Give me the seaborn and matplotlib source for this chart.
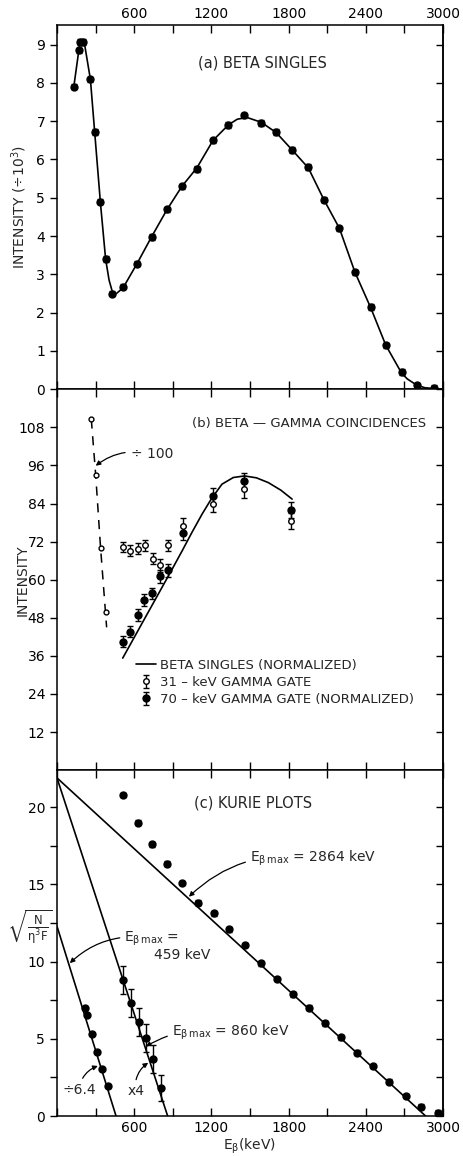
import matplotlib
matplotlib.use("Agg")
import matplotlib.pyplot as plt
import numpy as np
import pandas as pd
import seaborn as sns
from matplotlib.lines import Line2D
from matplotlib.ticker import MultipleLocator

# ---- (a) beta singles (intensity / 1000) ----
singles_e = [131, 170, 177, 203, 260, 293, 337, 378, 427, 514, 622, 735, 853, 971, 1087,
             1213, 1331, 1457, 1588, 1704, 1827, 1953, 2074, 2195, 2316, 2439, 2555, 2678, 2799, 2927]
singles_i = [7.9, 8.85, 9.07, 9.07, 8.09, 6.72, 4.9, 3.4, 2.5, 2.68, 3.28, 3.98, 4.7, 5.3, 5.75,
             6.5, 6.9, 7.15, 6.95, 6.72, 6.25, 5.8, 4.95, 4.2, 3.05, 2.15, 1.15, 0.45, 0.1, 0.03]
singles_fit_e = [131, 170, 182, 200, 215, 260, 293, 337, 378, 405, 430, 455, 514, 622, 735, 853,
                 971, 1087, 1213, 1331, 1400, 1474, 1588, 1704, 1827, 1953, 2074, 2195, 2316,
                 2439, 2555, 2678, 2722, 2799, 2860, 2927]
singles_fit_i = [7.9, 8.85, 9.1, 9.1, 9.0, 8.09, 6.72, 4.9, 3.4, 2.85, 2.55, 2.48, 2.65, 3.28, 3.98,
                 4.68, 5.3, 5.78, 6.5, 6.9, 7.05, 7.1, 6.97, 6.7, 6.25, 5.78, 4.95, 4.2, 3.05,
                 2.12, 1.15, 0.42, 0.27, 0.1, 0.04, 0.02]

# ---- (b) beta-gamma coincidences ----
gate31_e = [511, 571, 627, 684, 743, 800, 859, 976, 1213, 1457, 1822]
gate31_i = [70.3, 69.2, 69.8, 70.8, 66.6, 64.5, 70.8, 77.0, 84.0, 88.6, 78.6]
gate31_err = [1.7, 1.7, 1.7, 1.7, 1.8, 2.0, 1.8, 2.3, 2.8, 2.8, 2.5]
gate70_e = [511, 568, 627, 679, 737, 800, 859, 979, 1213, 1457, 1822]
gate70_i = [40.5, 43.6, 48.9, 53.6, 55.7, 61.1, 63.0, 74.7, 86.5, 91.2, 81.9]
gate70_err = [1.8, 1.8, 1.8, 1.8, 1.8, 2.0, 2.0, 2.3, 2.5, 2.5, 2.5]
low31_e = [267, 301, 339, 383]          # divided by 100
low31_i = [110.5, 93.0, 70.0, 49.7]
low31_line_e = [267, 301, 339, 386]
low31_line_i = [110.5, 93.0, 70.0, 45.0]
norm_fit_e = [511, 600, 700, 800, 900, 974, 1050, 1128, 1200, 1282, 1370, 1457, 1550, 1642, 1740, 1827]
norm_fit_i = [35.3, 41.8, 49.1, 56.4, 63.7, 69.2, 75.0, 80.7, 85.5, 90.1, 92.2, 92.7, 92.1, 90.6, 88.2, 85.4]

# ---- (c) Kurie plots ----
kurie_hi_e = [517, 632, 740, 858, 974, 1095, 1218, 1339, 1462, 1588, 1709, 1832, 1958, 2084,
              2203, 2331, 2454, 2583, 2709, 2832, 2961]
kurie_hi_v = [20.78, 19.0, 17.59, 16.35, 15.1, 13.81, 13.12, 12.08, 11.07, 9.88, 8.87, 7.88, 7.01,
              6.0, 5.09, 4.10, 3.24, 2.22, 1.29, 0.60, 0.21]
kurie_mid_e = [517, 576, 635, 691, 748, 810]
kurie_mid_v = [8.80, 7.33, 6.1, 5.07, 3.69, 1.83]
kurie_mid_err = [0.9, 0.9, 0.9, 0.9, 0.9, 0.85]
kurie_lo_e = [221, 236, 275, 314, 349, 396]
kurie_lo_v = [7.01, 6.54, 5.31, 4.16, 3.02, 1.94]
fit_2864_e, fit_2864_v = [0, 2864], [21.9, 0]
fit_860_e, fit_860_v = [0, 860], [21.9, 0]
fit_459_e, fit_459_v = [0, 459], [12.3, 0]

x_ticks = [600, 1200, 1800, 2400, 3000]

sns.set_theme(style="ticks")
plt.rcParams["font.family"] = ["DejaVu Sans"]
plt.rcParams["mathtext.default"] = "regular"
plt.rcParams["axes.edgecolor"] = "black"
plt.rcParams["axes.linewidth"] = 1.1
FS = 10

fig = plt.figure(figsize=(4.63, 11.56), dpi=100)
gs = fig.add_gridspec(3, 1, height_ratios=[364, 381, 346], hspace=0,
                      left=0.123, right=0.957, top=0.978, bottom=0.0346)
ax_a = fig.add_subplot(gs[0])
ax_b = fig.add_subplot(gs[1], sharex=ax_a)
ax_c = fig.add_subplot(gs[2], sharex=ax_a)


def style_axes(ax, major, minor=None):
    ax.set_xlim(0, 3000)
    ax.xaxis.set_major_locator(MultipleLocator(600))
    ax.xaxis.set_minor_locator(MultipleLocator(300))
    ax.yaxis.set_major_locator(MultipleLocator(major))
    if minor:
        ax.yaxis.set_minor_locator(MultipleLocator(minor))
    ax.tick_params(axis="y", which="both", left=True, right=False, direction="out",
                   labelsize=FS, colors="black", length=5, width=1)
    ax.tick_params(axis="x", which="both", top=True, bottom=True, direction="in",
                   labelsize=FS, colors="black", length=6, width=1)
    for s in ax.spines.values():
        s.set_color("black")
    # right-hand ticks point inward
    sec = ax.secondary_yaxis("right")
    sec.yaxis.set_major_locator(MultipleLocator(major))
    if minor:
        sec.yaxis.set_minor_locator(MultipleLocator(minor))
    sec.tick_params(axis="y", which="both", direction="in", length=5, width=1,
                    labelright=False, colors="black")
    sec.spines["right"].set_color("black")


# ---------- panel (a) ----------
sns.lineplot(x=singles_fit_e, y=singles_fit_i, ax=ax_a, color="black", lw=1.2, sort=False,
             estimator=None)
ax_a.errorbar(singles_e, singles_i, yerr=0.07, fmt="o", color="black", ms=5, capsize=2,
              elinewidth=1, capthick=1)
ax_a.set_ylim(0, 9.5)
style_axes(ax_a, 1)
ax_a.tick_params(axis="x", which="both", labeltop=True, labelbottom=False)
ax_a.set_xticks(x_ticks)
ax_a.set_xticklabels([str(t) for t in x_ticks])
ax_a.set_ylabel("INTENSITY (÷10$^3$)", fontsize=FS)
ax_a.yaxis.set_label_coords(-0.072, 0.5)
ax_a.text(0.531, 0.898, "(a) BETA SINGLES", transform=ax_a.transAxes, ha="center",
          va="center", fontsize=FS + 0.5)

# ---------- panel (b) ----------
sns.lineplot(x=norm_fit_e, y=norm_fit_i, ax=ax_b, color="black", lw=1.2, sort=False,
             estimator=None)
sns.lineplot(x=low31_line_e, y=low31_line_i, ax=ax_b, color="black", lw=1.1, sort=False,
             estimator=None, linestyle=(0, (6, 5)))
ax_b.plot(low31_e, low31_i, "o", mfc="white", mec="black", ms=3.5, mew=1)
h31 = ax_b.errorbar(gate31_e, gate31_i, yerr=gate31_err, fmt="o", mfc="white", mec="black",
                    color="black", ms=4, capsize=2, elinewidth=1, capthick=1, mew=1)
h70 = ax_b.errorbar(gate70_e, gate70_i, yerr=gate70_err, fmt="o", color="black", ms=5,
                    capsize=2, elinewidth=1, capthick=1)
ax_b.set_ylim(0, 120)
style_axes(ax_b, 12)
ax_b.set_yticks([12, 24, 36, 48, 60, 72, 84, 96, 108])
ax_b.tick_params(axis="x", which="both", labelbottom=False, labeltop=False)
ax_b.set_ylabel("INTENSITY", fontsize=FS)
ax_b.yaxis.set_label_coords(-0.072, 0.5)
ax_b.text(0.652, 0.911, "(b) BETA — GAMMA COINCIDENCES", transform=ax_b.transAxes,
          ha="center", va="center", fontsize=FS - 0.5)
ax_b.annotate("÷ 100", xy=(301, 95.9), xytext=(576, 99.5), fontsize=FS, va="center",
              arrowprops=dict(arrowstyle="-|>", color="black", lw=0.9, mutation_scale=7,
                              connectionstyle="arc3,rad=0.25", shrinkA=2, shrinkB=0))
leg_line = Line2D([], [], color="black", lw=1.2)
ax_b.legend([leg_line, h31, h70],
            ["BETA SINGLES (NORMALIZED)", "31 – keV GAMMA GATE", "70 – keV GAMMA GATE (NORMALIZED)"],
            loc="upper left", bbox_to_anchor=(0.205, 0.292), frameon=False, fontsize=FS - 0.5,
            handlelength=1.5, handletextpad=0.3, labelspacing=0.3, borderpad=0,
            borderaxespad=0)

# ---------- panel (c) ----------
for fe, fv in [(fit_2864_e, fit_2864_v), (fit_860_e, fit_860_v), (fit_459_e, fit_459_v)]:
    sns.lineplot(x=fe, y=fv, ax=ax_c, color="black", lw=1.2, estimator=None)
ax_c.errorbar(kurie_hi_e, kurie_hi_v, yerr=0.15, fmt="o", color="black", ms=5, capsize=2,
              elinewidth=1, capthick=1)
ax_c.errorbar(kurie_mid_e, kurie_mid_v, yerr=kurie_mid_err, fmt="o", color="black", ms=5,
              capsize=2.5, elinewidth=1, capthick=1)
ax_c.errorbar(kurie_lo_e, kurie_lo_v, fmt="o", color="black", ms=5)
ax_c.set_ylim(0, 22.4)
style_axes(ax_c, 5, 2.5)
ax_c.tick_params(axis="x", which="both", labelbottom=True, labeltop=False)
ax_c.set_xticks(x_ticks)
ax_c.set_xticklabels([str(t) for t in x_ticks])
ax_c.set_xlabel(r"E$_\beta$(keV)", fontsize=FS, labelpad=1)
ax_c.text(0.508, 0.905, "(c) KURIE PLOTS", transform=ax_c.transAxes, ha="center",
          va="center", fontsize=FS + 0.5)
ax_c.text(-0.07, 12.2, r"$\sqrt{\frac{N}{\eta^3 F}}$", transform=ax_c.get_yaxis_transform(),
          ha="center", va="center", fontsize=FS + 2)

arrow_kw = dict(arrowstyle="-|>", color="black", lw=0.9, mutation_scale=7, shrinkA=1, shrinkB=0)
ax_c.annotate(r"E$_{\beta\,max}$ = 2864 keV", xy=(1025, 14.2), xytext=(1500, 16.7),
              fontsize=FS, va="center",
              arrowprops=dict(connectionstyle="arc3,rad=0.25", **arrow_kw))
ax_c.annotate(r"E$_{\beta\,max}$ =", xy=(100, 9.9), xytext=(524, 11.5), fontsize=FS,
              va="center", arrowprops=dict(connectionstyle="arc3,rad=0.25", **arrow_kw))
ax_c.text(755, 10.4, "459 keV", fontsize=FS, va="center")
ax_c.annotate(r"E$_{\beta\,max}$ = 860 keV", xy=(691, 4.5), xytext=(893, 5.4), fontsize=FS,
              va="center", arrowprops=dict(connectionstyle="arc3,rad=0.2", **arrow_kw))
ax_c.annotate("÷6.4", xy=(318, 3.24), xytext=(40, 1.7), fontsize=FS, va="center",
              arrowprops=dict(connectionstyle="arc3,rad=-0.3", **arrow_kw))
ax_c.annotate("x4", xy=(709, 3.45), xytext=(545, 1.6), fontsize=FS, va="center",
              arrowprops=dict(connectionstyle="arc3,rad=-0.3", **arrow_kw))

fig.savefig("out.png", dpi=100, facecolor="white")
